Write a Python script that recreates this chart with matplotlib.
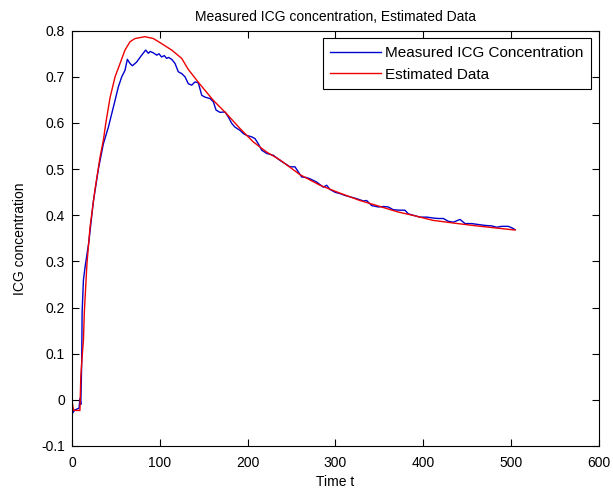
import matplotlib
matplotlib.use("Agg")
import matplotlib.pyplot as plt

plt.rcParams['font.family'] = ['Liberation Sans', 'DejaVu Sans']
plt.rcParams['axes.unicode_minus'] = False

# measured ICG concentration
t_meas = [0, 1, 3, 8, 9, 10, 11, 11.5, 13, 15, 19, 24.3, 30, 35.7, 41.4, 45.2,
          49, 52.7, 56.6, 60.3, 63, 66, 68.7, 73.6, 79.3, 83.9, 86.9, 89, 92.6,
          96.4, 99, 102, 105, 107.8, 110, 113.5, 117.3, 121, 124.9, 128.7,
          132.4, 136.3, 140, 143.8, 147.7, 151.4, 157.1, 160.9, 164, 168.5,
          174.2, 178, 181.9, 185.6, 191.3, 195.1, 199, 204.6, 208.4, 212.1,
          216, 221.7, 229.2, 236.8, 242.5, 248.2, 253.9, 257.7, 261.5, 266.4,
          271, 278.6, 286.1, 290, 293.7, 299.4, 305.1, 310.8, 318.4, 324.1,
          331.7, 335.5, 341.2, 348.8, 354.4, 360.1, 365.8, 373.4, 379.1, 383,
          388.6, 396.2, 403.9, 411.4, 417.1, 422.8, 428.5, 434.2, 441.8, 447.5,
          455.1, 462.6, 470.3, 477.8, 483.5, 489.2, 496.8, 500.6, 504.4]
c_meas = [-0.015, -0.028, -0.022, -0.018, 0.003, -0.01, 0.08, 0.19, 0.26,
          0.29, 0.34, 0.43, 0.50, 0.555, 0.591, 0.620, 0.649, 0.678, 0.700,
          0.714, 0.738, 0.729, 0.724, 0.732, 0.747, 0.758, 0.751, 0.755, 0.752,
          0.747, 0.750, 0.743, 0.746, 0.740, 0.742, 0.738, 0.729, 0.711, 0.707,
          0.700, 0.685, 0.682, 0.689, 0.687, 0.660, 0.656, 0.653, 0.646, 0.628,
          0.623, 0.624, 0.613, 0.599, 0.591, 0.584, 0.577, 0.573, 0.570, 0.566,
          0.555, 0.541, 0.534, 0.530, 0.519, 0.512, 0.505, 0.505, 0.494, 0.483,
          0.482, 0.479, 0.472, 0.461, 0.465, 0.456, 0.450, 0.447, 0.443, 0.439,
          0.436, 0.431, 0.432, 0.421, 0.418, 0.419, 0.418, 0.412, 0.411, 0.411,
          0.403, 0.400, 0.396, 0.396, 0.394, 0.393, 0.393, 0.387, 0.385, 0.391,
          0.382, 0.382, 0.380, 0.378, 0.377, 0.374, 0.376, 0.376, 0.373, 0.369]

# estimated (model) curve
t_est = [0, 1, 2, 9, 10, 11, 13, 14, 17, 20.5, 26, 32, 35.7, 38.5, 43.3, 49,
         54.7, 60.3, 66, 71.7, 83, 92.6, 102, 113.5, 124.9, 132.4, 145.2,
         160.9, 176, 191.3, 206.4, 221.6, 236.8, 259.6, 282.4, 305.1, 327.9,
         350.7, 371.5, 390, 411, 435, 460.7, 485, 504.5]
c_est = [0.0, -0.015, -0.023, -0.023, 0.05, 0.08, 0.13, 0.19, 0.295, 0.374,
         0.454, 0.527, 0.563, 0.60, 0.655, 0.700, 0.729, 0.758, 0.776, 0.783,
         0.787, 0.783, 0.772, 0.758, 0.740, 0.716, 0.685, 0.649, 0.620, 0.588,
         0.559, 0.537, 0.520, 0.488, 0.465, 0.448, 0.432, 0.419, 0.407, 0.399,
         0.389, 0.383, 0.377, 0.372, 0.368]

x_ticks = [0, 100, 200, 300, 400, 500, 600]
y_ticks = [-0.1, 0, 0.1, 0.2, 0.3, 0.4, 0.5, 0.6, 0.7, 0.8]
y_labels = ['-0.1', '0', '0.1', '0.2', '0.3', '0.4', '0.5', '0.6', '0.7', '0.8']

fig = plt.figure(figsize=(6.13, 4.95), dpi=100)
ax = fig.add_axes([0.1175, 0.099, 0.8595, 0.839])

ax.plot(t_meas, c_meas, color='#0000cc', lw=1.0, label='Measured ICG Concentration')
ax.plot(t_est, c_est, color='#ee0000', lw=1.0, label='Estimated Data')

ax.set_xlim(0, 600)
ax.set_ylim(-0.1, 0.8)
ax.set_xticks(x_ticks)
ax.set_yticks(y_ticks)
ax.set_yticklabels(y_labels)
ax.tick_params(direction='in', length=5, top=True, right=True, labelsize=10)
ax.tick_params(axis='x', pad=7)
ax.tick_params(axis='y', pad=5)
for s in ax.spines.values():
    s.set_linewidth(0.8)

ax.set_title('Measured ICG concentration, Estimated Data', fontsize=10, pad=7)
ax.set_xlabel('Time t', fontsize=10, labelpad=4)
ax.set_ylabel('ICG concentration', fontsize=10, labelpad=10)

leg = ax.legend(loc='upper right', fontsize=11, fancybox=False, framealpha=1,
                edgecolor='black', handlelength=3.3, borderpad=0.5,
                labelspacing=0.5, handletextpad=0.3, borderaxespad=0.5)
leg.get_frame().set_linewidth(0.8)

fig.savefig('out.png', dpi=100)
